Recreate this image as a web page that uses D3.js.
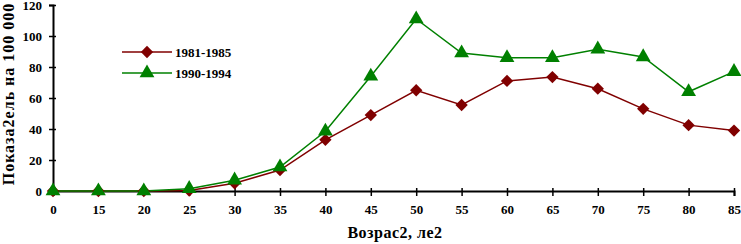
<!DOCTYPE html>
<html>
<head>
<meta charset="utf-8">
<script src="https://cdn.jsdelivr.net/npm/d3@7"></script>
<style>
body { margin: 0; background: #fff; }
text { font-family: "Liberation Serif", "Times New Roman", serif; font-weight: bold; }
</style>
</head>
<body>
<div id="chart-area"></div>
<script>
var ages = ["0","15","20","25","30","35","40","45","50","55","60","65","70","75","80","85"];
var s1981 = [0,0,0,0.3,5,13.5,33,49,65,55.5,71,73.5,66,53,42.5,39];
var s1990 = [0,0,0,1.5,7,15.5,38.5,74,111,89,86,86,91.5,86.5,64,77];
var yTicks = [0,20,40,60,80,100,120];
var seriesNames = ["1981-1985","1990-1994"];

var svg = d3.select("#chart-area").append("svg")
    .attr("width", 741)
    .attr("height", 244);

var x = d3.scalePoint()
    .domain(ages)
    .range([53, 734]);

var y = d3.scaleLinear()
    .domain([0,120])
    .range([191, 5]);

// x axis
var xAxis = svg.append("g")
    .attr("transform", "translate(0,191)")
    .call(d3.axisBottom(x).tickSize(5).tickPadding(9));
xAxis.select(".domain").attr("stroke","black").attr("stroke-width",2);
xAxis.selectAll(".tick line").attr("y1",-3).attr("stroke-width",1.5);
xAxis.selectAll("text").attr("font-size",13).attr("fill","black");

// y axis
var yAxis = svg.append("g")
    .attr("transform", "translate(53,0)")
    .call(d3.axisLeft(y).tickValues(yTicks).tickSize(4).tickPadding(7));
yAxis.select(".domain").attr("stroke","black").attr("stroke-width",2);
yAxis.selectAll(".tick line").attr("x1",3).attr("stroke-width",1.5);
yAxis.selectAll("text").attr("font-size",13).attr("fill","black");

svg.append("text")
    .attr("x", 395).attr("y", 238)
    .attr("text-anchor","middle")
    .attr("font-size",16)
    .attr("letter-spacing",0.5)
    .text("Возрас2, ле2");

svg.append("text")
    .attr("transform","translate(14,94) rotate(-90)")
    .attr("text-anchor","middle")
    .attr("font-size",16)
    .attr("letter-spacing",1)
    .text("Показа2ель на 100 000");

var diamond = d3.symbol().type(d3.symbolSquare).size(76);
var triangle = d3.symbol().type(d3.symbolTriangle).size(95);

var series = [
  {name: seriesNames[0], values: s1981, color: "#800000", shape: diamond, rot: 45},
  {name: seriesNames[1], values: s1990, color: "#008000", shape: triangle, rot: 0}
];

var line = d3.line()
    .x((d,i)=>{return x(ages[i]);})
    .y((d)=>{return y(d);});

series.forEach((s)=>{
    svg.append("path")
        .datum(s.values)
        .attr("d", line)
        .attr("fill","none")
        .attr("stroke", s.color)
        .attr("stroke-width", 1.5);
});

series.forEach((s)=>{
    svg.selectAll(null)
        .data(s.values)
        .enter()
        .append("path")
        .attr("transform",(d,i)=>{return "translate(" + x(ages[i]) + "," + y(d) + ") rotate(" + s.rot + ")";})
        .attr("d", s.shape)
        .attr("fill", s.color);
});

// legend
var legend = svg.append("g");
series.forEach((s,i)=>{
    var ly = 52 + i*21;
    legend.append("line")
        .attr("x1",122).attr("x2",172)
        .attr("y1",ly).attr("y2",ly)
        .attr("stroke",s.color).attr("stroke-width",1.5);
    legend.append("path")
        .attr("transform","translate(147," + ly + ") rotate(" + s.rot + ")")
        .attr("d", s.shape)
        .attr("fill", s.color);
    legend.append("text")
        .attr("x",175).attr("y",ly+5)
        .attr("font-size",13)
        .text(s.name);
});
</script>
</body>
</html>
